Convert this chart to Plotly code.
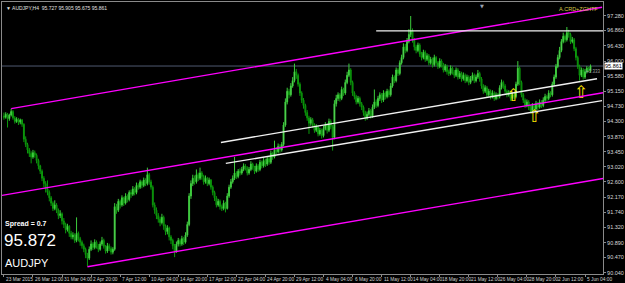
import plotly.graph_objects as go

# ---------------- data ----------------
symbol = "AUDJPY"
first_open = 94.45

closes = [
94.42,94.50,94.38,94.48,94.58,94.40,94.30,94.36,94.28,94.34,
94.22,93.80,93.65,93.50,93.40,93.30,93.42,93.35,93.20,93.05,
92.90,92.70,92.55,92.40,92.30,92.15,92.00,91.85,91.95,91.80,
91.65,91.70,91.50,91.40,91.25,91.35,91.15,91.05,91.10,90.95,
91.15,91.00,90.90,90.80,90.70,90.55,90.45,90.70,90.85,90.75,
90.90,90.80,90.70,90.85,90.95,90.78,90.65,90.80,90.72,90.62,
90.70,91.90,91.80,92.05,91.95,92.15,92.00,92.20,92.10,92.30,
92.25,92.40,92.30,92.50,92.45,92.60,92.50,92.65,92.55,92.80,
92.60,92.45,91.95,91.80,91.65,91.55,91.45,91.60,91.35,91.20,
91.30,91.05,90.95,90.80,90.65,90.85,90.95,90.85,91.00,90.90,
91.10,91.40,92.20,92.55,92.70,92.60,92.80,92.70,92.85,92.75,
92.60,92.70,92.55,92.65,92.45,92.30,92.15,91.95,92.05,91.90,
91.85,92.00,91.85,92.20,92.45,92.60,92.70,92.85,92.75,92.90,
92.85,92.95,93.05,93.00,92.85,92.95,93.10,93.00,92.90,93.05,
92.95,93.15,93.05,93.20,93.10,93.25,93.15,93.40,93.30,93.50,
93.45,93.60,93.50,93.65,94.20,94.85,95.15,95.05,95.30,95.45,
95.70,95.60,95.35,95.10,94.90,94.75,94.55,94.40,94.25,94.35,
94.20,94.05,94.15,93.95,94.05,93.90,94.10,94.20,94.05,94.30,
94.15,93.85,94.80,94.95,95.05,94.95,95.20,95.10,95.40,95.60,
95.75,95.40,95.10,95.00,94.85,94.95,94.80,94.70,94.55,94.40,
94.50,94.60,94.45,94.70,94.85,94.75,94.95,95.05,94.90,95.10,
95.00,95.15,95.05,95.30,95.55,95.45,95.75,95.65,95.95,96.10,
96.40,96.30,96.55,96.75,96.85,96.60,96.40,96.30,96.45,96.20,
96.10,96.25,96.05,96.15,95.95,96.05,95.90,96.10,95.95,95.85,
96.00,95.90,95.75,95.85,95.70,95.65,95.80,95.70,95.60,95.75,
95.55,95.65,95.50,95.60,95.45,95.55,95.40,95.50,95.60,95.45,
95.55,95.65,95.50,95.30,95.15,95.25,95.05,95.15,95.00,95.10,
94.95,95.05,95.00,95.25,95.40,95.30,95.15,95.05,95.10,94.95,
95.05,95.00,95.35,95.80,95.40,95.05,94.90,94.75,94.85,94.70,
94.60,94.75,94.65,94.80,94.70,94.85,94.75,94.90,95.00,94.95,
95.10,95.05,95.35,95.55,95.85,96.10,96.30,96.55,96.70,96.60,
96.80,96.75,96.55,96.60,96.35,96.10,95.85,95.60,95.75,95.55,
95.70,95.80,95.727,95.861]

highs = [
94.55,94.56,94.54,94.52,94.66,94.62,94.45,94.42,94.40,94.38,
94.37,94.25,93.88,93.70,93.55,93.46,93.50,93.48,93.40,93.25,
93.08,92.95,92.76,92.62,92.64,92.36,92.20,92.05,92.08,92.00,
91.85,91.80,91.74,91.58,91.45,91.42,91.38,91.22,91.18,91.15,
91.60,91.20,91.05,90.95,90.86,90.75,90.60,90.78,90.95,90.90,
90.98,90.95,90.85,90.92,91.05,91.00,90.82,90.88,90.86,90.78,
90.76,92.00,91.98,92.12,92.10,92.22,92.18,92.28,92.25,92.36,
92.38,92.48,92.45,92.58,92.56,92.66,92.64,92.72,92.70,93.00,
92.85,92.66,92.50,92.02,91.88,91.72,91.62,91.70,91.65,91.40,
91.38,91.34,91.10,91.00,90.85,90.92,91.02,91.00,91.08,91.05,
91.18,91.48,92.28,92.64,92.80,92.78,92.95,92.86,93.00,92.90,
92.80,92.78,92.74,92.72,92.68,92.50,92.35,92.20,92.12,92.10,
91.96,92.08,92.04,92.28,92.52,92.68,92.78,93.30,92.90,92.96,
92.98,93.02,93.12,93.10,93.04,93.02,93.18,93.14,93.05,93.12,
93.10,93.22,93.20,93.28,93.25,93.32,93.30,93.48,93.45,93.76,
93.58,93.68,93.66,93.72,94.28,94.95,95.25,95.22,95.38,95.55,
95.93,95.78,95.65,95.40,95.15,94.96,94.80,94.62,94.46,94.42,
94.40,94.25,94.22,94.20,94.12,94.10,94.18,94.28,94.25,94.38,
94.36,94.20,94.90,95.05,95.12,95.10,95.28,95.25,95.48,95.70,
95.93,95.80,95.45,95.15,95.05,95.02,95.00,94.85,94.75,94.60,
94.58,94.68,94.65,94.78,95.20,94.92,95.02,95.12,95.10,95.18,
95.15,95.22,95.20,95.38,95.62,95.60,95.82,95.80,96.02,96.18,
96.50,96.48,96.65,96.90,97.27,96.92,96.65,96.46,96.52,96.50,
96.26,96.32,96.30,96.22,96.20,96.12,96.10,96.18,96.14,96.00,
96.08,96.05,95.95,95.92,95.90,95.76,95.88,95.85,95.75,95.82,
95.80,95.72,95.70,95.68,95.65,95.62,95.60,95.58,95.68,95.65,
95.62,95.75,95.70,95.55,95.35,95.32,95.30,95.22,95.20,95.18,
95.15,95.12,95.10,95.32,95.48,95.45,95.35,95.20,95.18,95.15,
95.12,95.10,95.42,96.00,95.85,95.45,95.10,94.95,94.92,94.90,
94.76,94.82,94.80,94.88,94.85,94.92,94.90,94.98,95.08,95.05,
95.18,95.15,95.42,95.62,95.92,96.18,96.40,96.62,96.80,96.75,
96.96,96.88,96.80,96.68,96.65,96.40,96.15,95.90,95.82,95.80,
95.78,95.86,95.84,95.905]

lows = [
94.35,94.38,94.13,94.32,94.44,94.35,94.24,94.26,94.20,94.22,
94.15,93.72,93.58,93.40,93.30,93.12,93.25,93.28,93.12,92.95,
92.82,92.62,92.45,92.30,92.22,92.05,91.92,91.78,91.80,91.72,
91.55,91.58,91.40,91.30,91.15,91.20,91.05,90.98,90.98,90.88,
90.90,90.92,90.80,90.72,90.62,90.45,90.22,90.40,90.65,90.68,
90.70,90.72,90.62,90.66,90.80,90.72,90.58,90.60,90.65,90.55,
90.56,90.66,91.70,91.75,91.85,91.90,91.92,91.96,92.02,92.05,
92.15,92.20,92.22,92.25,92.38,92.40,92.42,92.45,92.48,92.50,
92.52,92.38,91.88,91.70,91.55,91.45,91.35,91.40,91.25,91.10,
91.12,90.95,90.85,90.70,90.48,90.60,90.78,90.78,90.80,90.82,
90.86,91.05,91.35,92.12,92.48,92.52,92.55,92.62,92.65,92.66,
92.52,92.55,92.48,92.50,92.38,92.22,92.06,91.88,91.90,91.82,
91.78,91.80,91.74,91.82,92.15,92.40,92.55,92.65,92.68,92.70,
92.78,92.80,92.90,92.92,92.78,92.80,92.90,92.94,92.82,92.86,
92.88,92.90,92.98,93.00,93.02,93.05,93.08,93.10,93.22,93.26,
93.38,93.40,93.42,93.45,93.60,94.15,94.78,94.95,95.00,95.25,
95.40,95.50,95.28,95.02,94.82,94.66,94.46,94.32,93.95,94.18,
94.12,93.98,94.00,93.88,93.90,93.82,93.85,94.05,93.96,94.00,
94.08,93.48,93.80,94.72,94.88,94.86,94.90,95.02,95.05,95.35,
95.55,95.32,95.02,94.92,94.78,94.80,94.72,94.62,94.46,94.32,
94.35,94.45,94.38,94.40,94.65,94.68,94.70,94.88,94.82,94.85,
94.92,94.95,94.98,95.00,95.25,95.38,95.40,95.58,95.60,95.90,
96.05,96.22,96.25,96.50,96.68,96.52,96.30,96.22,96.25,96.12,
96.02,96.05,95.98,96.00,95.88,95.90,95.82,95.85,95.88,95.78,
95.80,95.82,95.68,95.70,95.62,95.58,95.60,95.62,95.52,95.55,
95.48,95.50,95.42,95.45,95.38,95.40,95.32,95.35,95.45,95.38,
95.40,95.50,95.42,95.22,95.08,95.10,94.98,95.00,94.92,94.95,
94.88,94.90,94.92,94.95,95.20,95.22,95.08,94.98,95.00,94.88,
94.90,94.92,94.95,95.30,95.32,94.98,94.82,94.68,94.70,94.62,
94.55,94.56,94.58,94.60,94.62,94.66,94.68,94.70,94.85,94.88,
94.90,94.98,95.00,95.30,95.50,95.80,96.05,96.25,96.50,96.52,
96.55,96.66,96.48,96.50,96.28,96.02,95.78,95.45,95.55,95.48,
95.50,95.65,95.68,95.675]

time_labels = ["23 Mar 2015", "26 Mar 12:00", "31 Mar 04:00", "2 Apr 20:00",
               "7 Apr 12:00", "10 Apr 04:00", "14 Apr 20:00", "17 Apr 12:00",
               "22 Apr 04:00", "24 Apr 20:00", "29 Apr 12:00", "4 May 04:00",
               "6 May 20:00", "11 May 12:00", "14 May 04:00", "18 May 20:00",
               "21 May 12:00", "26 May 04:00", "28 May 20:00", "2 Jun 12:00",
               "5 Jun 04:00"]
time_label_bars = [0, 16, 32, 48, 64, 80, 96, 112, 128, 144, 160, 176, 192,
                   208, 224, 240, 256, 272, 288, 304, 320]

price_ticks = [97.280, 96.860, 96.430, 96.000, 95.580, 95.150, 94.730, 94.300,
               93.870, 93.450, 93.020, 92.600, 92.170, 91.740, 91.320, 90.890,
               90.470, 90.040]

bid_price = 95.861
ask_price_text = "95.872"
spread_text = "Spread = 0.7"
header_text = "▼ AUDJPY,H4  95.727 95.905 95.675 95.861"
channel_name = "A.CRD+ZGHTF"

# trend objects: (bar, price) endpoints
channel_upper = [(4.0, 94.66), (329.4, 97.516)]
channel_middle = [(-1.05, 92.22), (329.9, 95.111)]
channel_lower = [(46.0, 90.21), (329.9, 92.695)]
resist_line = [(205.0, 96.85), (329.9, 96.85)]
white_upper = [(119.5, 93.708), (326.6, 95.504)]
white_lower = [(122.2, 93.119), (329.4, 94.887)]

arrow_bars = [280.6, 292.1, 317.9]
arrow_prices = [94.99, 94.41, 95.09]

# ---------------- figure ----------------
assert len(closes) == len(highs) == len(lows), (len(closes), len(highs), len(lows))
n = len(closes)
opens = [first_open] + closes[:-1]
hi = [max(h, o, c) for h, o, c in zip(highs, opens, closes)]
lo = [min(l, o, c) for l, o, c in zip(lows, opens, closes)]
bars = list(range(n))

FONT = "Liberation Sans, Arial, sans-serif"
GRAY = "#8a8a8a"

fig = go.Figure()
fig.add_trace(go.Candlestick(
    x=bars, open=opens, high=hi, low=lo, close=closes,
    increasing=dict(line=dict(color="#3ccc3c", width=1), fillcolor="#b4ffb4"),
    decreasing=dict(line=dict(color="#0c9a0c", width=1), fillcolor="#005a00"),
    whiskerwidth=0, hoverinfo="skip", showlegend=False,
))

fig.add_trace(go.Scatter(
    x=arrow_bars, y=arrow_prices, mode="text", text=["⇧"] * len(arrow_bars),
    textfont=dict(size=17, color="#ffe600", family="DejaVu Sans"),
    textposition="middle center", hoverinfo="skip", showlegend=False,
))

def seg(pts, color, width):
    (x0, y0), (x1, y1) = pts
    fig.add_shape(type="line", xref="x", yref="y", x0=x0, y0=y0, x1=x1, y1=y1,
                  line=dict(color=color, width=width), layer="above")

# bid line
fig.add_shape(type="line", xref="paper", yref="y", x0=0, x1=1, y0=bid_price,
              y1=bid_price, line=dict(color="#505a70", width=1), layer="below")

seg(channel_upper, "#ff00ff", 1.4)
seg(channel_middle, "#ff00ff", 1.4)
seg(channel_lower, "#ff00ff", 1.4)
seg(resist_line, "#f0f0f0", 1.4)
seg(white_upper, "#f0f0f0", 1.4)
seg(white_lower, "#f0f0f0", 1.4)

ann = []
for b, t in zip(time_label_bars, time_labels):
    ann.append(dict(x=b, y=0, xref="x", yref="paper", text=t, showarrow=False,
                    xanchor="left", yanchor="top", xshift=0, yshift=-1,
                    font=dict(size=4.8, color="#d0d0d0", family=FONT)))

ann.append(dict(x=1, y=bid_price, xref="paper", yref="y", text=f"{bid_price:.3f}",
                showarrow=False, xanchor="left", yanchor="middle", xshift=1,
                bgcolor="#ffffff", borderpad=0,
                font=dict(size=5.5, color="#000000", family=FONT)))
ann.append(dict(x=0.9985, y=bid_price, xref="paper", yref="y", text="+0.333",
                showarrow=False, xanchor="right", yanchor="top", yshift=-1,
                font=dict(size=4.5, color="#a0a0a0", family=FONT)))
ann.append(dict(x=0.0, y=1, xref="paper", yref="paper", text=header_text,
                showarrow=False, xanchor="left", yanchor="top", xshift=2, yshift=-1,
                font=dict(size=5, color="#e0e0e0", family=FONT)))
ann.append(dict(x=0.995, y=1, xref="paper", yref="paper", text=channel_name,
                showarrow=False, xanchor="right", yanchor="top", yshift=-2,
                font=dict(size=5.5, color="#d8c848", family=FONT)))
ann.append(dict(x=0.798, y=1, xref="paper", yref="paper", text="▼",
                showarrow=False, xanchor="center", yanchor="top", yshift=1,
                font=dict(size=5, color="#9aa0b0", family="DejaVu Sans")))
ann.append(dict(x=0, y=0.185, xref="paper", yref="paper", text=f"<b>{spread_text}</b>",
                showarrow=False, xanchor="left", yanchor="middle", xshift=1,
                font=dict(size=7, color="#ffffff", family=FONT)))
ann.append(dict(x=0, y=0.125, xref="paper", yref="paper", text=ask_price_text,
                showarrow=False, xanchor="left", yanchor="middle", xshift=0,
                font=dict(size=17, color="#ffffff", family=FONT)))
ann.append(dict(x=0, y=0.04, xref="paper", yref="paper", text=symbol,
                showarrow=False, xanchor="left", yanchor="middle", xshift=1,
                font=dict(size=11, color="#ffffff", family=FONT)))

fig.update_layout(
    width=625, height=283,
    margin=dict(l=2, r=19, t=1, b=9),
    paper_bgcolor="#000000", plot_bgcolor="#000000",
    showlegend=False, annotations=ann,
    xaxis=dict(range=[-1.05, 329.9], rangeslider=dict(visible=False),
               showgrid=False, zeroline=False, tickvals=time_label_bars,
               showticklabels=False, ticks="outside", ticklen=2, tickcolor=GRAY,
               showline=True, linecolor=GRAY, linewidth=1, mirror=True,
               fixedrange=True),
    yaxis=dict(range=[90.005, 97.664], side="right", showgrid=False,
               zeroline=False, tickvals=price_ticks,
               ticktext=[f"{v:.3f}" for v in price_ticks],
               ticks="outside", ticklen=2, tickcolor=GRAY,
               tickfont=dict(size=5.5, color="#d8d8d8", family=FONT),
               showline=True, linecolor=GRAY, linewidth=1, mirror=True,
               fixedrange=True),
)

fig.write_html("out.html")
